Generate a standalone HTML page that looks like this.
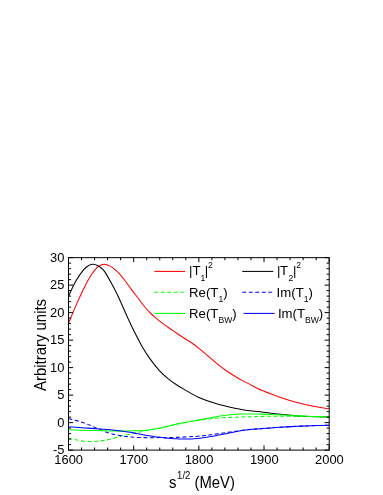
<!DOCTYPE html><html><head><meta charset="utf-8"><style>html,body{margin:0;padding:0;background:#fff}svg{display:block}text{font-family:"Liberation Sans",sans-serif;fill:#000}</style></head><body>
<svg width="383" height="495" viewBox="0 0 383 495">
<rect width="383" height="495" fill="#fff"/>
<defs><clipPath id="c"><rect x="68.50" y="257.65" width="260.70" height="192.45"/></clipPath><filter id="idf" x="0" y="0" width="383" height="495" filterUnits="userSpaceOnUse" color-interpolation-filters="sRGB"><feOffset dx="0" dy="0"/></filter></defs>
<g clip-path="url(#c)" fill="none" stroke-width="1.05" stroke-linejoin="round">
<path d="M68.50 323.40 C69.70 320.52 73.20 311.80 75.70 306.10 C78.20 300.40 80.90 294.42 83.50 289.20 C86.10 283.98 89.05 278.40 91.30 274.80 C93.55 271.20 95.38 269.23 97.00 267.60 C98.62 265.97 99.83 265.55 101.00 265.00 C102.17 264.45 102.92 264.30 104.00 264.30 C105.08 264.30 106.13 264.48 107.50 265.00 C108.87 265.52 110.43 266.17 112.20 267.40 C113.97 268.63 116.05 270.30 118.10 272.40 C120.15 274.50 122.32 277.22 124.50 280.00 C126.68 282.78 128.95 286.10 131.20 289.10 C133.45 292.10 136.20 295.62 138.00 298.00 C139.80 300.38 140.58 301.57 142.00 303.40 C143.42 305.23 145.03 307.32 146.50 309.00 C147.97 310.68 149.38 312.12 150.80 313.50 C152.22 314.88 153.57 316.08 155.00 317.30 C156.43 318.52 157.23 319.15 159.40 320.80 C161.57 322.45 165.15 325.17 168.00 327.20 C170.85 329.23 173.67 331.08 176.50 333.00 C179.33 334.92 182.50 337.07 185.00 338.70 C187.50 340.33 189.28 341.27 191.50 342.80 C193.72 344.33 195.63 345.77 198.30 347.90 C200.97 350.03 204.45 353.02 207.50 355.60 C210.55 358.18 213.57 360.95 216.60 363.40 C219.63 365.85 222.67 368.17 225.70 370.30 C228.73 372.43 232.02 374.48 234.80 376.20 C237.58 377.92 239.87 379.23 242.40 380.60 C244.93 381.97 247.28 383.02 250.00 384.40 C252.72 385.78 255.28 387.35 258.70 388.90 C262.12 390.45 266.25 392.07 270.50 393.70 C274.75 395.33 279.62 397.18 284.20 398.70 C288.78 400.22 293.52 401.63 298.00 402.80 C302.48 403.97 305.90 404.70 311.10 405.70 C316.30 406.70 326.18 408.28 329.20 408.80" stroke="#f00"/>
<path d="M68.50 296.30 C69.70 293.80 73.20 285.72 75.70 281.30 C78.20 276.88 81.28 272.45 83.50 269.80 C85.72 267.15 87.35 266.32 89.00 265.40 C90.65 264.48 91.90 264.25 93.40 264.30 C94.90 264.35 96.60 265.00 98.00 265.70 C99.40 266.40 100.63 267.43 101.80 268.50 C102.97 269.57 103.30 269.47 105.00 272.10 C106.70 274.73 109.82 280.27 112.00 284.30 C114.18 288.33 115.93 291.73 118.10 296.30 C120.27 300.87 123.13 307.55 125.00 311.70 C126.87 315.85 127.87 318.10 129.30 321.20 C130.73 324.30 131.45 326.05 133.60 330.30 C135.75 334.55 139.33 341.77 142.20 346.70 C145.07 351.63 147.93 355.92 150.80 359.90 C153.67 363.88 156.53 367.48 159.40 370.60 C162.27 373.72 165.15 376.23 168.00 378.60 C170.85 380.97 173.67 382.92 176.50 384.80 C179.33 386.68 181.37 387.83 185.00 389.90 C188.63 391.97 193.03 394.88 198.30 397.20 C203.57 399.52 210.52 401.97 216.60 403.80 C222.68 405.63 229.23 407.03 234.80 408.20 C240.37 409.37 246.13 410.23 250.00 410.80 C253.87 411.37 254.48 411.18 258.00 411.60 C261.52 412.02 266.73 412.80 271.10 413.30 C275.47 413.80 279.72 414.17 284.20 414.60 C288.68 415.03 293.52 415.58 298.00 415.90 C302.48 416.22 305.90 416.33 311.10 416.50 C316.30 416.67 326.18 416.83 329.20 416.90" stroke="#000"/>
<path d="M68.50 437.80 C69.58 438.10 72.75 439.08 75.00 439.60 C77.25 440.12 79.37 440.57 82.00 440.90 C84.63 441.23 87.97 441.57 90.80 441.60 C93.63 441.63 96.63 441.32 99.00 441.10 C101.37 440.88 103.17 440.60 105.00 440.30 C106.83 440.00 108.08 439.77 110.00 439.30 C111.92 438.83 114.33 438.13 116.50 437.50 C118.67 436.87 120.82 436.05 123.00 435.50 C125.18 434.95 127.42 434.65 129.60 434.20 C131.78 433.75 133.93 433.27 136.10 432.80 C138.27 432.33 140.42 431.85 142.60 431.40 C144.78 430.95 147.13 430.50 149.20 430.10 C151.27 429.70 153.20 429.33 155.00 429.00 C156.80 428.67 157.83 428.58 160.00 428.10 C162.17 427.62 164.48 426.92 168.00 426.10 C171.52 425.28 176.73 424.07 181.10 423.20 C185.47 422.33 191.05 421.40 194.20 420.90 C197.35 420.40 198.20 420.42 200.00 420.20 C201.80 419.98 202.83 419.90 205.00 419.60 C207.17 419.30 209.48 418.73 213.00 418.40 C216.52 418.07 221.73 417.83 226.10 417.60 C230.47 417.37 235.22 417.15 239.20 417.00 C243.18 416.85 246.87 416.78 250.00 416.70 C253.13 416.62 254.48 416.57 258.00 416.50 C261.52 416.43 266.73 416.33 271.10 416.30 C275.47 416.27 279.72 416.28 284.20 416.30 C288.68 416.32 293.52 416.35 298.00 416.40 C302.48 416.45 305.90 416.52 311.10 416.60 C316.30 416.68 326.18 416.85 329.20 416.90" stroke="#0f0" stroke-dasharray="3.9 2.6"/>
<path d="M68.50 418.50 C69.75 418.82 73.37 419.65 76.00 420.40 C78.63 421.15 81.62 422.03 84.30 423.00 C86.98 423.97 89.48 425.10 92.10 426.20 C94.72 427.30 97.35 428.52 100.00 429.60 C102.65 430.68 105.33 431.83 108.00 432.70 C110.67 433.57 113.50 434.23 116.00 434.80 C118.50 435.37 120.67 435.75 123.00 436.10 C125.33 436.45 127.82 436.68 130.00 436.90 C132.18 437.12 132.90 437.27 136.10 437.40 C139.30 437.53 145.22 437.67 149.20 437.70 C153.18 437.73 156.87 437.62 160.00 437.60 C163.13 437.58 164.48 437.67 168.00 437.60 C171.52 437.53 176.73 437.38 181.10 437.20 C185.47 437.02 190.22 436.77 194.20 436.50 C198.18 436.23 201.87 435.95 205.00 435.60 C208.13 435.25 209.48 434.90 213.00 434.40 C216.52 433.90 221.73 433.20 226.10 432.60 C230.47 432.00 235.22 431.32 239.20 430.80 C243.18 430.28 246.87 429.83 250.00 429.50 C253.13 429.17 254.48 429.07 258.00 428.80 C261.52 428.53 266.73 428.20 271.10 427.90 C275.47 427.60 279.72 427.27 284.20 427.00 C288.68 426.73 293.52 426.52 298.00 426.30 C302.48 426.08 305.90 425.87 311.10 425.70 C316.30 425.53 326.18 425.37 329.20 425.30" stroke="#00f" stroke-dasharray="3.9 2.6"/>
<path d="M68.50 429.80 C72.08 429.90 83.08 430.22 90.00 430.40 C96.92 430.58 104.50 430.78 110.00 430.90 C115.50 431.02 118.65 431.12 123.00 431.10 C127.35 431.08 132.77 430.90 136.10 430.80 C139.43 430.70 140.82 430.65 143.00 430.50 C145.18 430.35 147.20 430.15 149.20 429.90 C151.20 429.65 153.20 429.28 155.00 429.00 C156.80 428.72 157.83 428.67 160.00 428.20 C162.17 427.73 164.48 427.02 168.00 426.20 C171.52 425.38 176.73 424.20 181.10 423.30 C185.47 422.40 190.22 421.55 194.20 420.80 C198.18 420.05 201.87 419.40 205.00 418.80 C208.13 418.20 209.48 417.78 213.00 417.20 C216.52 416.62 221.73 415.82 226.10 415.30 C230.47 414.78 235.22 414.32 239.20 414.10 C243.18 413.88 246.87 414.00 250.00 414.00 C253.13 414.00 254.48 414.03 258.00 414.10 C261.52 414.17 266.73 414.25 271.10 414.40 C275.47 414.55 279.72 414.77 284.20 415.00 C288.68 415.23 293.52 415.57 298.00 415.80 C302.48 416.03 305.90 416.22 311.10 416.40 C316.30 416.58 326.18 416.82 329.20 416.90" stroke="#0f0"/>
<path d="M68.50 426.70 C71.25 426.90 79.75 427.52 85.00 427.90 C90.25 428.28 95.83 428.68 100.00 429.00 C104.17 429.32 106.17 429.43 110.00 429.80 C113.83 430.17 119.67 430.78 123.00 431.20 C126.33 431.62 127.82 431.93 130.00 432.30 C132.18 432.67 134.02 433.02 136.10 433.40 C138.18 433.78 140.32 434.20 142.50 434.60 C144.68 435.00 147.12 435.45 149.20 435.80 C151.28 436.15 153.20 436.45 155.00 436.70 C156.80 436.95 157.83 437.05 160.00 437.30 C162.17 437.55 165.50 437.97 168.00 438.20 C170.50 438.43 172.82 438.57 175.00 438.70 C177.18 438.83 178.93 438.95 181.10 439.00 C183.27 439.05 185.82 439.05 188.00 439.00 C190.18 438.95 192.20 438.83 194.20 438.70 C196.20 438.57 198.20 438.38 200.00 438.20 C201.80 438.02 202.83 437.92 205.00 437.60 C207.17 437.28 209.48 436.95 213.00 436.30 C216.52 435.65 221.73 434.57 226.10 433.70 C230.47 432.83 235.22 431.78 239.20 431.10 C243.18 430.42 246.87 429.97 250.00 429.60 C253.13 429.23 254.48 429.18 258.00 428.90 C261.52 428.62 266.73 428.22 271.10 427.90 C275.47 427.58 279.72 427.27 284.20 427.00 C288.68 426.73 293.52 426.52 298.00 426.30 C302.48 426.08 305.90 425.87 311.10 425.70 C316.30 425.53 326.18 425.37 329.20 425.30" stroke="#00f"/>
</g>
<path d="M68.50 450.10 v-4.60 M68.50 257.65 v4.60 M81.53 450.10 v-2.60 M81.53 257.65 v2.60 M94.57 450.10 v-2.60 M94.57 257.65 v2.60 M107.60 450.10 v-2.60 M107.60 257.65 v2.60 M120.64 450.10 v-2.60 M120.64 257.65 v2.60 M133.68 450.10 v-4.60 M133.68 257.65 v4.60 M146.71 450.10 v-2.60 M146.71 257.65 v2.60 M159.75 450.10 v-2.60 M159.75 257.65 v2.60 M172.78 450.10 v-2.60 M172.78 257.65 v2.60 M185.81 450.10 v-2.60 M185.81 257.65 v2.60 M198.85 450.10 v-4.60 M198.85 257.65 v4.60 M211.88 450.10 v-2.60 M211.88 257.65 v2.60 M224.92 450.10 v-2.60 M224.92 257.65 v2.60 M237.95 450.10 v-2.60 M237.95 257.65 v2.60 M250.99 450.10 v-2.60 M250.99 257.65 v2.60 M264.02 450.10 v-4.60 M264.02 257.65 v4.60 M277.06 450.10 v-2.60 M277.06 257.65 v2.60 M290.09 450.10 v-2.60 M290.09 257.65 v2.60 M303.13 450.10 v-2.60 M303.13 257.65 v2.60 M316.17 450.10 v-2.60 M316.17 257.65 v2.60 M329.20 450.10 v-4.60 M329.20 257.65 v4.60 M68.50 450.10 h4.60 M329.20 450.10 h-4.60 M68.50 444.60 h2.60 M329.20 444.60 h-2.60 M68.50 439.10 h2.60 M329.20 439.10 h-2.60 M68.50 433.60 h2.60 M329.20 433.60 h-2.60 M68.50 428.11 h2.60 M329.20 428.11 h-2.60 M68.50 422.61 h4.60 M329.20 422.61 h-4.60 M68.50 417.11 h2.60 M329.20 417.11 h-2.60 M68.50 411.61 h2.60 M329.20 411.61 h-2.60 M68.50 406.11 h2.60 M329.20 406.11 h-2.60 M68.50 400.61 h2.60 M329.20 400.61 h-2.60 M68.50 395.11 h4.60 M329.20 395.11 h-4.60 M68.50 389.62 h2.60 M329.20 389.62 h-2.60 M68.50 384.12 h2.60 M329.20 384.12 h-2.60 M68.50 378.62 h2.60 M329.20 378.62 h-2.60 M68.50 373.12 h2.60 M329.20 373.12 h-2.60 M68.50 367.62 h4.60 M329.20 367.62 h-4.60 M68.50 362.12 h2.60 M329.20 362.12 h-2.60 M68.50 356.62 h2.60 M329.20 356.62 h-2.60 M68.50 351.13 h2.60 M329.20 351.13 h-2.60 M68.50 345.63 h2.60 M329.20 345.63 h-2.60 M68.50 340.13 h4.60 M329.20 340.13 h-4.60 M68.50 334.63 h2.60 M329.20 334.63 h-2.60 M68.50 329.13 h2.60 M329.20 329.13 h-2.60 M68.50 323.63 h2.60 M329.20 323.63 h-2.60 M68.50 318.13 h2.60 M329.20 318.13 h-2.60 M68.50 312.64 h4.60 M329.20 312.64 h-4.60 M68.50 307.14 h2.60 M329.20 307.14 h-2.60 M68.50 301.64 h2.60 M329.20 301.64 h-2.60 M68.50 296.14 h2.60 M329.20 296.14 h-2.60 M68.50 290.64 h2.60 M329.20 290.64 h-2.60 M68.50 285.14 h4.60 M329.20 285.14 h-4.60 M68.50 279.64 h2.60 M329.20 279.64 h-2.60 M68.50 274.15 h2.60 M329.20 274.15 h-2.60 M68.50 268.65 h2.60 M329.20 268.65 h-2.60 M68.50 263.15 h2.60 M329.20 263.15 h-2.60 M68.50 257.65 h4.60 M329.20 257.65 h-4.60" stroke="#000" stroke-width="1.0" fill="none"/>
<rect x="68.50" y="257.65" width="260.70" height="192.45" fill="none" stroke="#000" stroke-width="1.0"/>
<g filter="url(#idf)">
<text x="64.4" y="453.70" font-size="12.9" text-anchor="end">-5</text>
<text x="64.4" y="426.81" font-size="12.9" text-anchor="end">0</text>
<text x="64.4" y="399.31" font-size="12.9" text-anchor="end">5</text>
<text x="64.4" y="371.82" font-size="12.9" text-anchor="end">10</text>
<text x="64.4" y="344.33" font-size="12.9" text-anchor="end">15</text>
<text x="64.4" y="316.84" font-size="12.9" text-anchor="end">20</text>
<text x="64.4" y="289.34" font-size="12.9" text-anchor="end">25</text>
<text x="64.4" y="261.85" font-size="12.9" text-anchor="end">30</text>
<text x="68.70" y="464.2" font-size="12.9" text-anchor="middle">1600</text>
<text x="133.88" y="464.2" font-size="12.9" text-anchor="middle">1700</text>
<text x="199.05" y="464.2" font-size="12.9" text-anchor="middle">1800</text>
<text x="264.22" y="464.2" font-size="12.9" text-anchor="middle">1900</text>
<text x="329.40" y="464.2" font-size="12.9" text-anchor="middle">2000</text>
<text transform="translate(169.0 488.2) scale(1.01 1.07)" font-size="14.7">s<tspan dy="-8.6" font-size="9.5" dx="0.7">1/2</tspan><tspan dy="8.6" font-size="14.7"> (MeV)</tspan></text>
<text transform="translate(45.9 391.0) rotate(-90) scale(1.016 1.07)" font-size="14.7">Arbitrary units</text>
<path d="M154.30 271.40 H185.20" stroke="#f00" stroke-width="1.05" fill="none"/>
<text x="189.10" y="275.00" font-size="13.2">|<tspan dx="0.0">T</tspan><tspan dy="5.5" dx="0.0" font-size="8.6">1</tspan><tspan dy="-5.5" dx="-0.7" font-size="13.2">|</tspan><tspan dy="-6.6" font-size="8.6">2</tspan></text>
<path d="M154.30 292.30 H185.20" stroke="#0f0" stroke-width="1.05" stroke-dasharray="3.9 2.6" fill="none"/>
<text x="189.10" y="297.30" font-size="13.2">Re(T<tspan dy="5" font-size="8.6">1</tspan><tspan dy="-5" font-size="13.2">)</tspan></text>
<path d="M154.30 313.40 H185.20" stroke="#0f0" stroke-width="1.05" fill="none"/>
<text x="189.10" y="317.90" font-size="13.2">Re(T<tspan dy="5" font-size="8.6">BW</tspan><tspan dy="-5" font-size="13.2">)</tspan></text>
<path d="M242.30 271.40 H273.30" stroke="#000" stroke-width="1.05" fill="none"/>
<text x="277.10" y="275.00" font-size="13.2">|<tspan dx="-0.5">T</tspan><tspan dy="5.5" dx="0.4" font-size="8.6">2</tspan><tspan dy="-5.5" dx="-0.4" font-size="13.2">|</tspan><tspan dy="-6.6" font-size="8.6">2</tspan></text>
<path d="M242.30 292.30 H273.30" stroke="#00f" stroke-width="1.05" stroke-dasharray="3.9 2.6" fill="none"/>
<text x="276.60" y="297.30" font-size="13.2">Im(T<tspan dy="5" font-size="8.6">1</tspan><tspan dy="-5" font-size="13.2">)</tspan></text>
<path d="M243.60 313.40 H274.60" stroke="#00f" stroke-width="1.05" fill="none"/>
<text x="277.90" y="317.90" font-size="13.2">Im(T<tspan dy="5" font-size="8.6">BW</tspan><tspan dy="-5" font-size="13.2">)</tspan></text>
</g>
</svg></body></html>
